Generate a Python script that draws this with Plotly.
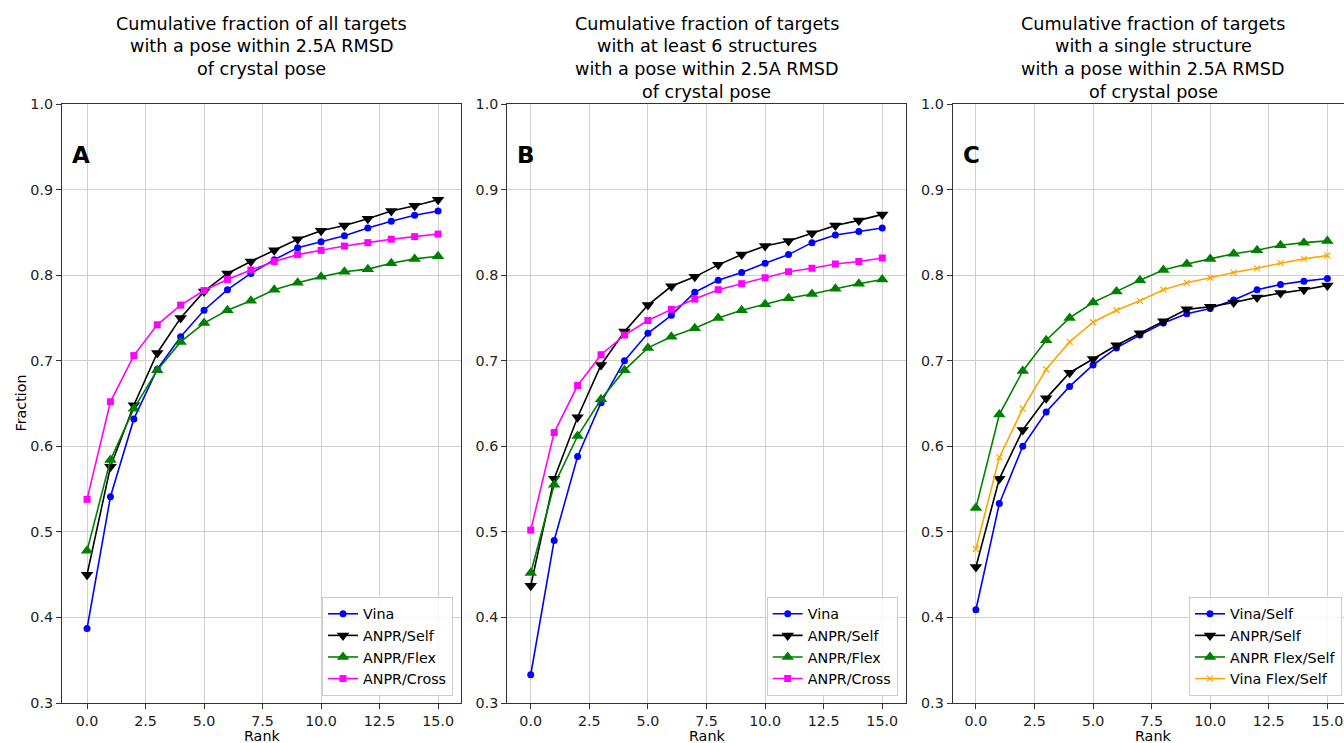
import plotly.graph_objects as go

ranks = list(range(16))

# Panel A: all targets
a_vina = [0.387, 0.541, 0.632, 0.690, 0.728, 0.759, 0.783, 0.802, 0.818, 0.832, 0.839, 0.846, 0.855, 0.863, 0.870, 0.875]
a_self = [0.450, 0.576, 0.648, 0.709, 0.750, 0.781, 0.802, 0.816, 0.829, 0.842, 0.852, 0.858, 0.866, 0.875, 0.881, 0.888]
a_flex = [0.478, 0.584, 0.644, 0.689, 0.722, 0.744, 0.759, 0.770, 0.783, 0.791, 0.798, 0.804, 0.807, 0.814, 0.819, 0.822]
a_cross = [0.538, 0.652, 0.706, 0.742, 0.765, 0.782, 0.795, 0.806, 0.816, 0.824, 0.829, 0.834, 0.838, 0.842, 0.845, 0.848]

# Panel B: targets with at least 6 structures
b_vina = [0.333, 0.490, 0.588, 0.651, 0.700, 0.732, 0.753, 0.780, 0.794, 0.803, 0.814, 0.824, 0.838, 0.847, 0.851, 0.855]
b_self = [0.437, 0.562, 0.634, 0.695, 0.734, 0.765, 0.787, 0.798, 0.812, 0.824, 0.834, 0.840, 0.849, 0.858, 0.864, 0.871]
b_flex = [0.452, 0.555, 0.612, 0.655, 0.689, 0.715, 0.728, 0.738, 0.750, 0.759, 0.766, 0.773, 0.778, 0.784, 0.790, 0.795]
b_cross = [0.502, 0.616, 0.671, 0.707, 0.730, 0.747, 0.760, 0.772, 0.783, 0.790, 0.797, 0.804, 0.808, 0.813, 0.816, 0.820]

# Panel C: targets with a single structure
c_vina = [0.409, 0.533, 0.600, 0.640, 0.670, 0.695, 0.715, 0.730, 0.744, 0.755, 0.761, 0.771, 0.783, 0.789, 0.793, 0.796]
c_self = [0.459, 0.562, 0.619, 0.656, 0.686, 0.702, 0.718, 0.732, 0.746, 0.760, 0.763, 0.768, 0.774, 0.779, 0.783, 0.788]
c_flex = [0.528, 0.637, 0.688, 0.724, 0.750, 0.768, 0.781, 0.794, 0.806, 0.813, 0.819, 0.825, 0.829, 0.835, 0.838, 0.840]
c_vflex = [0.480, 0.587, 0.644, 0.690, 0.722, 0.745, 0.759, 0.770, 0.783, 0.791, 0.797, 0.803, 0.808, 0.814, 0.819, 0.823]

titles = [
    ["Cumulative fraction of all targets", "with a pose within 2.5A RMSD", "of crystal pose"],
    ["Cumulative fraction of targets", "with at least 6 structures", "with a pose within 2.5A RMSD", "of crystal pose"],
    ["Cumulative fraction of targets", "with a single structure", "with a pose within 2.5A RMSD", "of crystal pose"],
]
letters = ["A", "B", "C"]
x_ticks = [0, 2.5, 5, 7.5, 10, 12.5, 15]
y_ticks = [0.3, 0.4, 0.5, 0.6, 0.7, 0.8, 0.9, 1.0]

FONT = "DejaVu Sans"
W, H = 1344, 743
ML, MT, MB = 62, 104, 40
PW = W - ML
PH = H - MT - MB
TICK_FS = 14.3
TITLE_FS = 17.6

def px_x(p):
    return (p - ML) / PW

def px_y(p):
    return (H - MB - p) / PH

panels = [
    dict(series=[("Vina", a_vina, "blue", "circle", 7),
                 ("ANPR/Self", a_self, "black", "triangle-down", 11),
                 ("ANPR/Flex", a_flex, "green", "triangle-up", 11),
                 ("ANPR/Cross", a_cross, "magenta", "square", 7)],
         dom=[px_x(62), px_x(461)], xr=[-1.07, 15.98], leg_right=453),
    dict(series=[("Vina", b_vina, "blue", "circle", 7),
                 ("ANPR/Self", b_self, "black", "triangle-down", 11),
                 ("ANPR/Flex", b_flex, "green", "triangle-up", 11),
                 ("ANPR/Cross", b_cross, "magenta", "square", 7)],
         dom=[px_x(507.3), px_x(905.7)], xr=[-1.0, 16.0], leg_right=897.7),
    dict(series=[("Vina/Self", c_vina, "blue", "circle", 7),
                 ("ANPR/Self", c_self, "black", "triangle-down", 11),
                 ("ANPR Flex/Self", c_flex, "green", "triangle-up", 11),
                 ("Vina Flex/Self", c_vflex, "orange", "x-thin", 6)],
         dom=[px_x(952.7), 1.0], xr=[-0.99, 15.71], leg_right=1342),
]

fig = go.Figure()
layout = dict(
    width=W, height=H,
    margin=dict(l=ML, r=0, t=MT, b=MB, pad=0),
    paper_bgcolor="white", plot_bgcolor="white",
    font=dict(family=FONT, size=TICK_FS, color="black"),
    showlegend=True,
    annotations=[],
)

for i, p in enumerate(panels):
    sfx = "" if i == 0 else str(i + 1)
    leg = "legend" + sfx
    for name, vals, color, sym, size in p["series"]:
        marker = dict(color=color, size=size, symbol=sym)
        if sym == "x-thin":
            marker["line"] = dict(color=color, width=1.2)
        fig.add_trace(go.Scatter(
            x=ranks, y=vals, name=name, mode="lines+markers",
            line=dict(color=color, width=1.6), marker=marker,
            xaxis="x" + sfx, yaxis="y" + sfx, legend=leg,
        ))
    axcommon = dict(showline=True, linecolor="#333333", linewidth=1.2,
                    ticks="outside", ticklen=5, tickcolor="#333333", tickwidth=1,
                    showgrid=True, gridcolor="#d0d0d0", gridwidth=1,
                    zeroline=False, tickfont=dict(size=TICK_FS, family=FONT, color="#222"))
    layout["xaxis" + sfx] = dict(axcommon, domain=p["dom"], range=p["xr"], anchor="y" + sfx,
                                 tickvals=x_ticks, ticktext=[f"{t:.1f}" for t in x_ticks],
                                 mirror=True)
    layout["yaxis" + sfx] = dict(axcommon, domain=[0, 1], range=[0.3, 1.0], anchor="x" + sfx,
                                 tickvals=y_ticks, ticktext=[f"{t:.1f}" for t in y_ticks],
                                 mirror=(i < 2))
    layout[leg] = dict(x=px_x(p["leg_right"]), y=px_y(696), xanchor="right", yanchor="bottom",
                       xref="paper", yref="paper",
                       bgcolor="rgba(255,255,255,0.8)", bordercolor="#cccccc", borderwidth=1,
                       font=dict(size=TICK_FS, family=FONT, color="black"),
                       traceorder="normal")
    cx = (p["dom"][0] + p["dom"][1]) / 2
    if i == 2:
        cx = px_x(1153)
    ys = [24, 46.5, 69, 91.5]
    for j, line in enumerate(titles[i]):
        layout["annotations"].append(dict(
            text=line, x=cx, y=px_y(ys[j]), xref="paper", yref="paper",
            xanchor="center", yanchor="middle", showarrow=False,
            font=dict(size=TITLE_FS, family=FONT, color="black")))
    layout["annotations"].append(dict(
        text="<b>" + letters[i] + "</b>", x=0.02, y=px_y(155),
        xref="x" + sfx + " domain", yref="paper", xanchor="left", yanchor="middle",
        showarrow=False, font=dict(size=23, family=FONT, color="black")))
    rx = (p["dom"][0] + p["dom"][1]) / 2
    if i == 2:
        rx = px_x(1153)
    layout["annotations"].append(dict(
        text="Rank", x=rx, y=px_y(736), xref="paper", yref="paper",
        xanchor="center", yanchor="middle", showarrow=False,
        font=dict(size=TICK_FS, family=FONT, color="black")))

layout["annotations"].append(dict(
    text="Fraction", x=px_x(20), y=0.5, xref="paper", yref="paper",
    xanchor="center", yanchor="middle", textangle=-90, showarrow=False,
    font=dict(size=TICK_FS, family=FONT, color="black")))

fig.update_layout(**layout)
fig.write_html("out.html", config={"displayModeBar": False},
               post_script="document.body.style.margin='0';document.body.style.overflow='hidden';")
